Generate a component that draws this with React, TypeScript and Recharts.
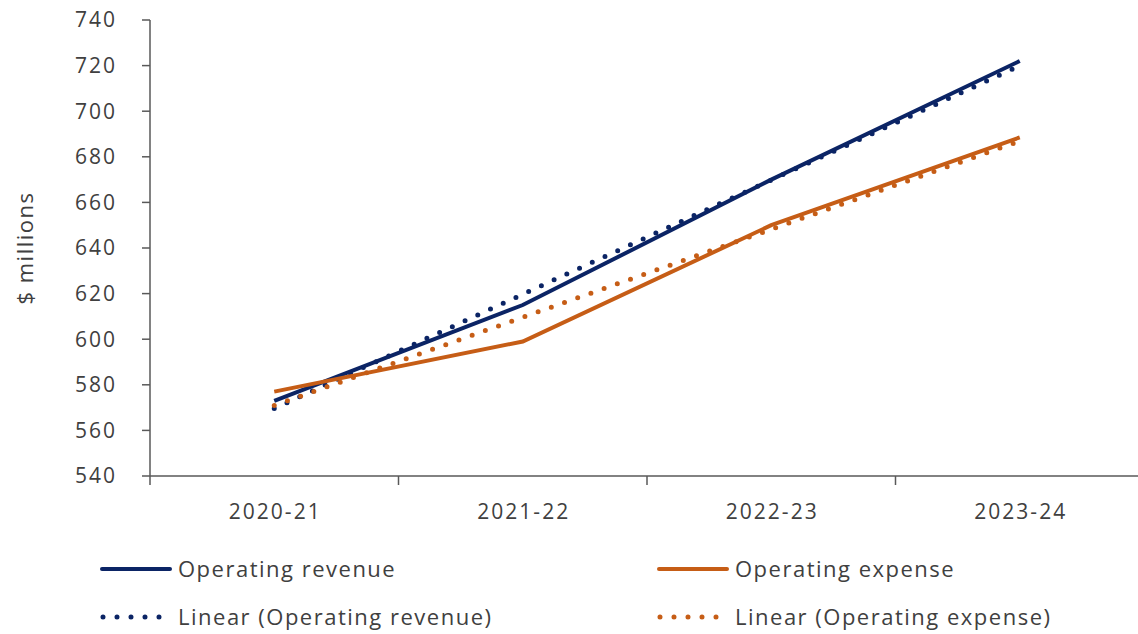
import React from "react";
import { LineChart, Line, XAxis, YAxis, Label } from "recharts";

const years = ["2020-21", "2021-22", "2022-23", "2023-24"];
const operatingRevenue = [573, 615, 670, 722];
const operatingExpense = [577, 599, 650, 688.5];
const revenueTrend = [569.6, 619.7, 669.8, 719.9];
const expenseTrend = [570.9, 609.6, 648.2, 686.9];
const yTicks = [540, 560, 580, 600, 620, 640, 660, 680, 700, 720, 740];

const NAVY = "#0B2465";
const ORANGE = "#C65D16";
const AXIS = "#595959";
const TEXT = "#404040";
const FONT = "'Open Sans', sans-serif";

const W = 1150;
const H = 634;
const LEFT = 150;
const RIGHT = 6;
const PLOT_W = W - LEFT - RIGHT;
const BAND = PLOT_W / years.length;

const data = years.map((y, i) => ({
  year: y,
  revenue: operatingRevenue[i],
  expense: operatingExpense[i],
  revenueTrend: revenueTrend[i],
  expenseTrend: expenseTrend[i],
}));

// category label in the middle, tick mark on the band edge
const XTick = (p: any) => (
  <g>
    <line x1={p.x - BAND / 2} x2={p.x - BAND / 2} y1={p.y} y2={p.y + 9} stroke={AXIS} strokeWidth={1.5} />
    <text x={p.x + 1} y={p.y + 43} textAnchor="middle" fill={TEXT} fontSize={21} fontFamily={FONT} letterSpacing={2}>
      {p.payload.value}
    </text>
  </g>
);

const legendItems = [
  { label: "Operating revenue", color: NAVY, dotted: false, x: 100, y: 569 },
  { label: "Operating expense", color: ORANGE, dotted: false, x: 657, y: 569 },
  { label: "Linear (Operating revenue)", color: NAVY, dotted: true, x: 100, y: 617 },
  { label: "Linear (Operating expense)", color: ORANGE, dotted: true, x: 657, y: 617 },
];

export default function App() {
  return (
    <div style={{ position: "fixed", left: 0, top: 0, width: 1138, height: 634, overflow: "hidden", background: "#fff" }}>
      <LineChart width={W} height={H} data={data} margin={{ top: 20, right: RIGHT, bottom: 108, left: 0 }}>
        <XAxis
          dataKey="year"
          padding={{ left: BAND / 2, right: BAND / 2 }}
          height={50}
          tickSize={0}
          tickMargin={0}
          tickLine={false}
          axisLine={{ stroke: AXIS, strokeWidth: 1.5 }}
          tick={XTick}
          interval={0}
        />
        <YAxis
          width={LEFT}
          domain={[540, 740]}
          ticks={yTicks}
          interval={0}
          tickSize={8}
          tickMargin={25}
          axisLine={{ stroke: AXIS, strokeWidth: 1.5 }}
          tickLine={{ stroke: AXIS, strokeWidth: 1.5 }}
          tick={{ fill: TEXT, fontSize: 21, fontFamily: FONT, letterSpacing: 2 }}
        >
          <Label
            value="$ millions"
            angle={-90}
            position="insideLeft"
            offset={25}
            style={{ fill: TEXT, fontSize: 22, fontFamily: FONT, letterSpacing: 1.5, textAnchor: "middle" }}
          />
        </YAxis>
        <Line dataKey="revenueTrend" stroke={NAVY} strokeWidth={5} strokeDasharray="0 14" strokeLinecap="round" dot={false} isAnimationActive={false} />
        <Line dataKey="expenseTrend" stroke={ORANGE} strokeWidth={5} strokeDasharray="0 14" strokeLinecap="round" dot={false} isAnimationActive={false} />
        <Line dataKey="revenue" stroke={NAVY} strokeWidth={4} dot={false} type="linear" isAnimationActive={false} />
        <Line dataKey="expense" stroke={ORANGE} strokeWidth={4} dot={false} type="linear" isAnimationActive={false} />
      </LineChart>
      <svg width={1138} height={100} style={{ position: "absolute", left: 0, top: 534 }}>
        {legendItems.map((it) => (
          <g key={it.label} transform={`translate(${it.x}, ${it.y - 534})`}>
            {it.dotted ? (
              <line x1={3} x2={70} y1={0} y2={0} stroke={it.color} strokeWidth={5} strokeDasharray="0 14" strokeLinecap="round" />
            ) : (
              <line x1={2} x2={70} y1={0} y2={0} stroke={it.color} strokeWidth={4} strokeLinecap="round" />
            )}
            <text x={78} y={8} fill={TEXT} fontSize={22} fontFamily={FONT} letterSpacing={1.5}>
              {it.label}
            </text>
          </g>
        ))}
      </svg>
    </div>
  );
}
